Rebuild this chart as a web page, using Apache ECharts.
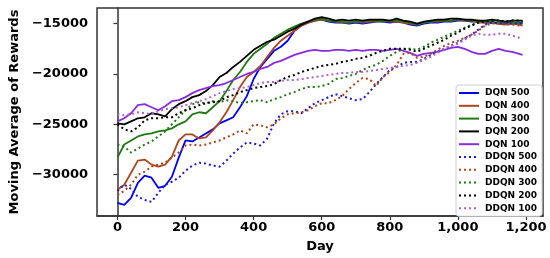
<!DOCTYPE html>
<html>
<head>
<meta charset="utf-8">
<script src="https://cdn.jsdelivr.net/npm/echarts@6/dist/echarts.min.js"></script>
<style>
  html, body { margin: 0; padding: 0; background: #fff; }
  #chart { width: 550px; height: 258px; }
</style>
</head>
<body>
<div id="chart"></div>
<script>
// day of each sample (moving average is read every 20 days)
var days = [
  0, 20, 40, 60, 80, 100, 120, 140, 160, 180,
  200, 220, 240, 260, 280, 300, 320, 340, 360, 380,
  400, 420, 440, 460, 480, 500, 520, 540, 560, 580,
  600, 620, 640, 660, 680, 700, 720, 740, 760, 780,
  800, 820, 840, 860, 880, 900, 920, 940, 960, 980,
  1000, 1020, 1040, 1060, 1080, 1100, 1120, 1140, 1160, 1180,
  1190
]

var dqn500 = [
  -32800, -33000, -32300, -30800, -30100, -30300, -31300, -31100, -30200, -28300,
  -26600, -26700, -26300, -25900, -25500, -24900, -24600, -24300, -23300, -22200,
  -20500, -19300, -18500, -17700, -17300, -16700, -15700, -15200, -14900, -14700,
  -14600, -14800, -14900, -14900, -15000, -14900, -15000, -14900, -14800, -14800,
  -14900, -14800, -14900, -15100, -15200, -15000, -14900, -14900, -14800, -14800,
  -14700, -14700, -14800, -14800, -14900, -14900, -15000, -14900, -15000, -14900,
  -15000
]
var dqn400 = [
  -31500, -31000, -29800, -28600, -28500, -29000, -29200, -29000, -28200, -26600,
  -26000, -26000, -26400, -26300, -25600, -24800, -23800, -22600, -21300, -20300,
  -19800, -19200, -18300, -17400, -16700, -16200, -15700, -15200, -14900, -14700,
  -14600, -14700, -14800, -14900, -14900, -14800, -14900, -14800, -14800, -14700,
  -14800, -14800, -14900, -15000, -15100, -14900, -14800, -14800, -14700, -14700,
  -14600, -14700, -14700, -14900, -14900, -14900, -15000, -15100, -15000, -15100,
  -15200
]
var dqn300 = [
  -28300, -27000, -26600, -26200, -26000, -25900, -25700, -25600, -25400, -25000,
  -24700, -24000, -23800, -23900, -23300, -22700, -21700, -20600, -19800, -18800,
  -18000, -17500, -17000, -16400, -16000, -15600, -15300, -15000, -14800, -14600,
  -14500, -14700, -14800, -14800, -14900, -14800, -14800, -14700, -14700, -14800,
  -14700, -14700, -14800, -14900, -15100, -14900, -14800, -14700, -14700, -14700,
  -14600, -14600, -14700, -14700, -14800, -14800, -14900, -14800, -14900, -14900,
  -14900
]
var dqn200 = [
  -24900, -25000, -24700, -24400, -24300, -23900, -24000, -24200, -23500, -23000,
  -22700, -22300, -22100, -21700, -21100, -20300, -19900, -19300, -18800, -18200,
  -17600, -17200, -16800, -16600, -16200, -15800, -15500, -15100, -14800, -14500,
  -14350, -14500, -14700, -14600, -14700, -14600, -14700, -14600, -14600, -14600,
  -14700, -14500, -14700, -14800, -15000, -14800, -14700, -14600, -14600, -14500,
  -14500, -14600, -14600, -14700, -14700, -14600, -14700, -14800, -14700, -14700,
  -14700
]
var dqn100 = [
  -24700, -24400, -23900, -23100, -23000, -23300, -23600, -23200, -22700, -22600,
  -22300, -21900, -21600, -21400, -21200, -21100, -20900, -20600, -20300, -20000,
  -19800, -19500, -19300, -18900, -18700, -18400, -18100, -17900, -17700, -17600,
  -17700, -17700, -17600, -17600, -17700, -17600, -17700, -17600, -17600, -17700,
  -17600, -17500, -17700, -17900, -18200, -18000, -17900, -17800, -17600, -17400,
  -17300, -17500, -17800, -18000, -18000, -17700, -17500, -17700, -17800, -18000,
  -18100
]
var ddqn500 = [
  -31600, -31000, -31400, -32200, -32500, -32700, -31800, -31000, -30700, -30300,
  -29600, -29100, -28800, -28900, -29100, -29200, -28600, -27900, -27300, -26800,
  -26900, -27100, -26400, -24900, -24000, -23700, -23700, -23900, -23400, -22900,
  -22600, -22300, -22000, -22200, -22400, -22600, -22500, -21800, -21000, -20300,
  -19600, -19300, -18900, -18800, -18800, -18500, -18100, -17800, -17500, -17200,
  -16900, -16500, -16100, -15600, -15100, -14900, -15000, -14900, -15000, -15000,
  -15000
]
var ddqn400 = [
  -32000, -31600, -31000, -30000, -29700, -29200, -29000, -28800, -28300, -27800,
  -27100, -27000, -27100, -27000, -26800, -26600, -26300, -26000, -25600, -25900,
  -25000, -25100, -25300, -25000, -24400, -24000, -23900, -23800, -23600, -23200,
  -22900, -22900, -22600, -22200, -21500, -20900, -20400, -20500, -21200, -20300,
  -19800, -19100, -18000, -17900, -18400, -18300, -18000, -17600, -17200, -16900,
  -16700, -16400, -16100, -15700, -15200, -15000, -15000, -15100, -15100, -15200,
  -15200
]
var ddqn300 = [
  -27000, -27200, -27800, -27400, -27000, -26700, -26200, -25700, -25000, -24300,
  -23600, -23000, -22800, -22900, -22700, -22800, -22600, -22700, -22900, -22800,
  -22700, -22600, -22800, -22500, -22300, -22000, -21800, -21500, -21300, -21300,
  -21200, -21000, -20500, -20400, -20200, -20000, -19600, -19300, -19100, -18700,
  -18200, -17800, -17500, -17500, -17600, -17300, -16900, -16600, -16300, -16000,
  -15700, -15400, -15100, -14900, -14800, -14800, -14700, -14800, -14700, -14800,
  -14800
]
var ddqn200 = [
  -25000, -25500, -25700, -25300, -24600, -24400, -24400, -24300, -24300, -23900,
  -23600, -23400, -23100, -22900, -22800, -22700, -22300, -22100, -21800, -21600,
  -21400, -21300, -21200, -21000, -20600, -20300, -20100, -19800, -19600, -19400,
  -19200, -19100, -19000, -18800, -18700, -18500, -18400, -18200, -17900, -17700,
  -17500, -17500, -17500, -17600, -17800, -17500, -17200, -16900, -16600, -16200,
  -15900, -15500, -15200, -14900, -14800, -14700, -14700, -14800, -14700, -14700,
  -14800
]
var ddqn100 = [
  -24000, -24100, -24000, -23800, -23900, -24000, -23700, -23500, -23400, -23300,
  -23100, -22900, -22700, -22500, -22200, -21900, -21700, -21500, -21400, -21300,
  -21100, -20900, -20800, -20800, -20700, -20600, -20600, -20500, -20400, -20300,
  -20200, -20100, -20000, -19900, -19900, -19800, -19800, -19700, -19600, -19500,
  -19400, -19300, -19200, -19100, -18900, -18600, -18300, -17900, -17500, -17200,
  -17000, -16600, -16200, -16000, -16100, -16100, -16000, -16000, -16200, -16400,
  -16500
]

var yTicks = [-30000, -25000, -20000, -15000]
var xTicks = [0, 200, 400, 600, 800, 1000, 1200]

var names = ['DQN 500', 'DQN 400', 'DQN 300', 'DQN 200', 'DQN 100',
  'DDQN 500', 'DDQN 400', 'DDQN 300', 'DDQN 200', 'DDQN 100']
var values = [dqn500, dqn400, dqn300, dqn200, dqn100,
  ddqn500, ddqn400, ddqn300, ddqn200, ddqn100]
var colors = ['#0000ff', '#b0451c', '#1f7a12', '#000000', '#8a2be2',
  '#1a1ae0', '#b0451c', '#1f7a12', '#000000', '#b060d8']

var font = 'DejaVu Sans'
var chart = echarts.init(document.getElementById('chart'))

function minus(v) {
  return String(v).replace('-', '\u2212')
}

chart.setOption({
  animation: false,
  grid: {
    left: 83,
    right: 7,
    top: 8,
    bottom: 38,
    show: true,
    borderColor: '#333',
    borderWidth: 1.5
  },
  legend: {
    orient: 'vertical',
    left: 456,
    top: 85,
    data: names,
    itemWidth: 20,
    itemHeight: 10,
    itemGap: 2.8,
    padding: [3, 5, 3, 2],
    backgroundColor: '#fff',
    borderColor: '#d0d0d0',
    borderWidth: 1,
    borderRadius: 3,
    // hide the marker dot, keep only the line sample
    itemStyle: { opacity: 0 },
    textStyle: {
      fontFamily: font,
      fontWeight: 'bold',
      fontSize: 9,
      lineHeight: 10,
      color: '#000',
      padding: [0, 0, 0, 1]
    }
  },
  xAxis: {
    type: 'value',
    min: -60,
    max: 1250,
    name: 'Day',
    nameLocation: 'middle',
    nameGap: 24,
    nameTextStyle: { fontFamily: font, fontWeight: 'bold', fontSize: 13, color: '#000' },
    axisLine: { show: true, lineStyle: { color: '#333', width: 1.5 } },
    axisTick: { show: true, length: 4, customValues: xTicks, lineStyle: { color: '#333', width: 1.2 } },
    axisLabel: {
      customValues: xTicks,
      margin: 5,
      fontFamily: font,
      fontWeight: 'bold',
      fontSize: 13,
      color: '#000'
    },
    splitLine: { show: false }
  },
  yAxis: {
    type: 'value',
    min: -34100,
    max: -13450,
    name: 'Moving Average of Rewards',
    nameLocation: 'middle',
    nameGap: 67,
    nameTextStyle: { fontFamily: font, fontWeight: 'bold', fontSize: 13, color: '#000' },
    axisLine: { show: true, lineStyle: { color: '#333', width: 1.5 } },
    axisTick: { show: true, length: 4, customValues: yTicks, lineStyle: { color: '#333', width: 1.2 } },
    axisLabel: {
      customValues: yTicks,
      margin: 9,
      formatter: minus,
      fontFamily: font,
      fontWeight: 'bold',
      fontSize: 13,
      color: '#000'
    },
    splitLine: { show: false }
  },
  series: names.map(function (name, k) {
    var dotted = k >= 5
    return {
      name: name,
      type: 'line',
      showSymbol: false,
      symbol: 'none',
      color: colors[k],
      lineStyle: {
        color: colors[k],
        width: dotted ? 2 : 1.8,
        type: dotted ? [2, 3] : 'solid'
      },
      data: days.map(function (d, i) { return [d, values[k][i]] })
    }
  })
})
</script>
</body>
</html>
